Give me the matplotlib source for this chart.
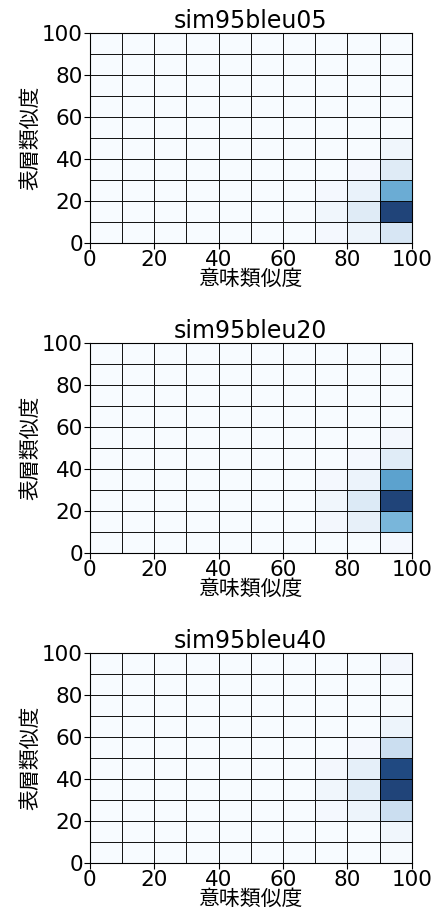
import numpy as np
import matplotlib
matplotlib.use("Agg")
import matplotlib.pyplot as plt

plt.rcParams['font.family'] = ['DejaVu Sans', 'Noto Sans CJK JP']

titles = ["sim95bleu05", "sim95bleu20", "sim95bleu40"]
edges = np.arange(0, 101, 10)

# relative cell values, rows = 表層類似度 bins (0-10 ... 90-100), cols = 意味類似度 bins
z05 = np.zeros((10, 10))
z05[0, 7:] = [0.02, 0.06, 0.18]
z05[1, 6:] = [0.01, 0.04, 0.14, 1.0]
z05[2, 7:] = [0.02, 0.08, 0.55]
z05[3, 8:] = [0.02, 0.14]
z05[4, 9] = 0.04

z20 = np.zeros((10, 10))
z20[0, 9] = 0.02
z20[1, 7:] = [0.03, 0.09, 0.50]
z20[2, 7:] = [0.04, 0.15, 1.0]
z20[3, 7:] = [0.02, 0.07, 0.60]
z20[4, 8:] = [0.02, 0.13]
z20[5, 9] = 0.03

z40 = np.zeros((10, 10))
z40[0, 9] = 0.01
z40[1, 9] = 0.04
z40[2, 7:] = [0.02, 0.06, 0.25]
z40[3, 7:] = [0.04, 0.13, 1.0]
z40[4, 7:] = [0.03, 0.10, 0.98]
z40[5, 8:] = [0.02, 0.25]
z40[6, 9] = 0.06
z40[7, 9] = 0.01
z40[9, 9] = 0.03

data = [z05, z20, z40]

fig = plt.figure(figsize=(4.38, 9.13), dpi=100)
bottoms = [0.734, 0.394, 0.0548]
for t, z, b in zip(titles, data, bottoms):
    ax = fig.add_axes([0.205, b, 0.735, 0.230])
    ax.pcolormesh(edges, edges, z, cmap='Blues', vmin=0, vmax=1,
                  edgecolors='k', linewidth=0.6, alpha=0.9)
    ax.set_xlim(0, 100)
    ax.set_ylim(0, 100)
    ax.set_xticks(range(0, 101, 20))
    ax.set_yticks(range(0, 101, 20))
    ax.tick_params(labelsize=15.5, length=4, pad=1)
    ax.set_title(t, fontsize=17, pad=2)
    ax.set_xlabel("意味類似度", fontsize=15, labelpad=-1)
    ax.set_ylabel("表層類似度", fontsize=15, labelpad=1)

fig.savefig("out.png", dpi=100)
